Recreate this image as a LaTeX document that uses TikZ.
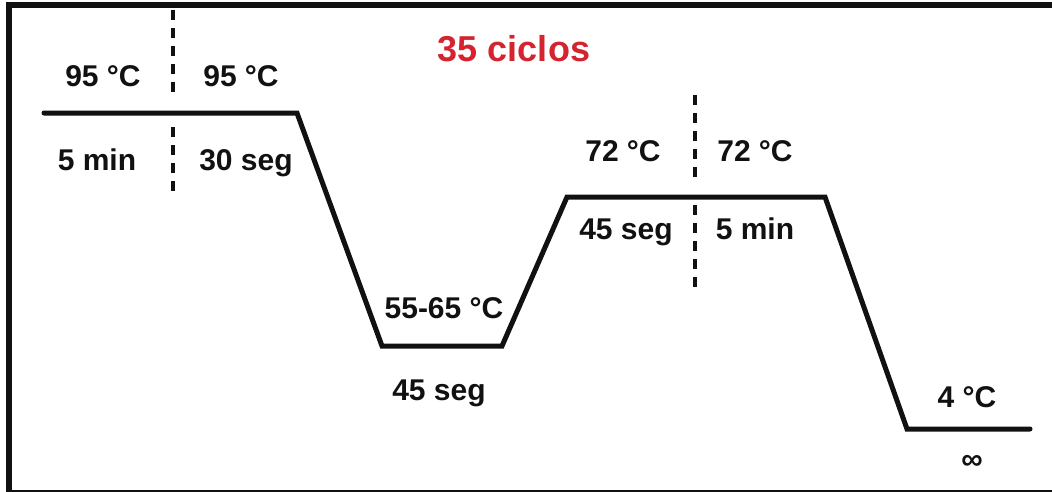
\documentclass[tikz,border=0pt]{standalone}
\usepackage{fontspec}
\setmainfont{Liberation Sans}
\definecolor{ink}{RGB}{17,17,17}
\definecolor{redtxt}{RGB}{212,36,48}
\begin{document}
\begin{tikzpicture}[x=0.75pt,y=-0.75pt,
  lbl/.style={anchor=base,inner sep=0pt,text=ink,font=\fontsize{22.5}{24}\selectfont\bfseries},
  profile/.style={draw=ink,line width=3.75pt,line cap=round,line join=miter},
  divider/.style={draw=ink,line width=3.3pt,dash pattern=on 7.5pt off 6pt}]
\useasboundingbox (0,0) rectangle (1052,492);
\begin{scope}
\clip (0,0) rectangle (1052,492);
\draw[ink,line width=4.5pt] (9,5) rectangle (1070,493);
\end{scope}
% profile coordinates
\coordinate (p0) at (44,113);
\coordinate (p1) at (297,113);
\coordinate (p2) at (382,346);
\coordinate (p3) at (502,346);
\coordinate (p4) at (567,197);
\coordinate (p5) at (825,197);
\coordinate (p6) at (907,429);
\coordinate (p7) at (1030,429);
\draw[profile] (p0) -- (p1) -- (p2) -- (p3) -- (p4) -- (p5) -- (p6) -- (p7);
% dashed dividers
\coordinate (d1a) at (173,10);
\coordinate (d1b) at (173,100);
\coordinate (d1c) at (173,127);
\coordinate (d1d) at (173,195);
\draw[divider] (d1a) -- (d1b);
\draw[divider] (d1c) -- (d1d);
\coordinate (d2a) at (695,95);
\coordinate (d2b) at (695,185);
\coordinate (d2c) at (695,205);
\coordinate (d2d) at (695,287);
\draw[divider] (d2a) -- (d2b);
\draw[divider] (d2c) -- (d2d);
% labels
\node[lbl] (t1) at (103,87) {95 °C};
\node[lbl] (t2) at (241,87) {95 °C};
\node[lbl] (t3) at (97,170) {5 min};
\node[lbl] (t4) at (246,170) {30 seg};
\node[lbl,text=redtxt,font=\fontsize{27}{29}\selectfont\bfseries] (title) at (514,62) {35 ciclos};
\node[lbl] (t5) at (623,161) {72 °C};
\node[lbl] (t6) at (755,161) {72 °C};
\node[lbl] (t7) at (626,239) {45 seg};
\node[lbl] (t8) at (755,239) {5 min};
\node[lbl] (t9) at (444,318) {55-65 °C};
\node[lbl] (t10) at (439,400) {45 seg};
\node[lbl] (t11) at (967,407) {4 °C};
\node[lbl] (t12) at (972,469) {∞};
\end{tikzpicture}
\end{document}
